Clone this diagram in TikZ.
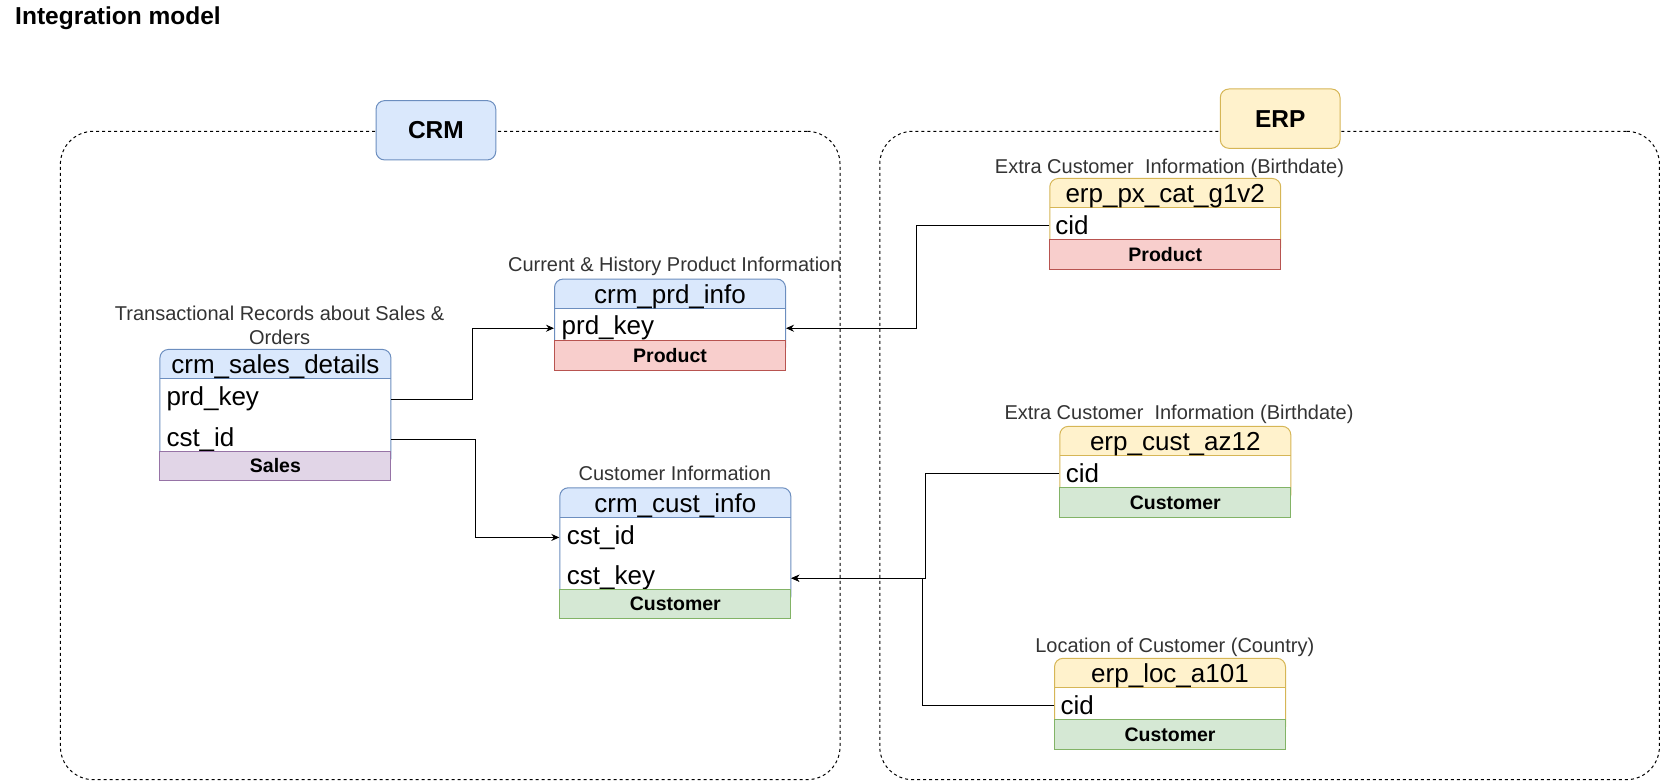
\documentclass[tikz,border=0pt]{standalone}
\usepackage{fontspec}
\setmainfont{Liberation Sans}
\usetikzlibrary{positioning,calc,arrows.meta}
\definecolor{crmfill}{HTML}{DAE8FC}
\definecolor{crmline}{HTML}{6C8EBF}
\definecolor{erpfill}{HTML}{FFF2CC}
\definecolor{erpline}{HTML}{D6B656}
\definecolor{productfill}{HTML}{F8CECC}
\definecolor{productline}{HTML}{B85450}
\definecolor{customerfill}{HTML}{D5E8D4}
\definecolor{customerline}{HTML}{82B366}
\definecolor{salesfill}{HTML}{E1D5E7}
\definecolor{salesline}{HTML}{9673A6}
\begin{document}
\begin{tikzpicture}[x=1.0594pt, y=-1.0594pt,
  zone/.style={draw, line width=1pt, dash pattern=on 3pt off 3pt, rounded corners=33pt, minimum width=779.7pt, minimum height=648.4pt},
  tag/.style={draw=#1line, fill=#1fill, line width=1pt, rounded corners=8.5pt, minimum width=119.7pt, minimum height=59.3pt, font=\fontsize{24.5}{28}\selectfont\bfseries},
  entity/.style={draw=#1line, fill=white, line width=1pt, rounded corners=8.5pt, anchor=north, minimum width=231pt, inner sep=0pt,
    path picture={\fill[#1fill, sharp corners] (path picture bounding box.north west) rectangle ([yshift=-29.5pt]path picture bounding box.north east);
      \draw[#1line, line width=1pt, sharp corners] ([yshift=-29.5pt]path picture bounding box.north west) -- ([yshift=-29.5pt]path picture bounding box.north east);}},
  head/.style={anchor=base, inner sep=0pt, font=\fontsize{26}{30}\selectfont},
  field/.style={anchor=base west, inner sep=0pt, font=\fontsize{26}{30}\selectfont},
  footer/.style={draw=#1line, fill=#1fill, line width=1pt, anchor=north, minimum width=231pt, minimum height=29.5pt, inner sep=0pt, font=\fontsize{19.5}{23}\selectfont\bfseries},
  desc/.style={anchor=base, font=\fontsize{20}{23.5}\selectfont, text=black!80, align=center, inner sep=0pt},
  link/.style={-{Stealth[length=8pt,width=7pt]}, line width=1pt}]
\useasboundingbox (0,0) rectangle (1568,737.2);

\node[anchor=base west, inner sep=0pt, font=\fontsize{24.5}{28}\selectfont\bfseries] (title) at (14.2,22.7) {Integration model};

% source systems
\node[zone] (crmzone) at (425,430) {};
\node[tag=crm] (crm) at (411.5,123) {CRM};
\node[zone] (erpzone) at (1198.5,430) {};
\node[tag=erp] (erp) at (1208.5,112) {ERP};

% crm_sales_details
\node[desc, anchor=center] (salesdesc) at (264,307) {Transactional Records about Sales \&\\Orders};
\node[entity=crm, minimum height=117pt] (sales) at (260,329.4) {};
\node[head] (salesh) at (260,353) {crm\_sales\_details};
\node[field] (salesprd) at (157,383.2) {prd\_key};
\node[field] (salescst) at (157,421.6) {cst\_id};
\node[footer=sales] (salesf) at (260,425.4) {Sales};

% crm_prd_info
\node[desc] (prddesc) at (637,256.5) {Current \& History Product Information};
\node[entity=crm, minimum height=77pt] (prd) at (632.5,263) {};
\node[head] (prdh) at (632.5,286.6) {crm\_prd\_info};
\node[field] (prdkey) at (530,316.2) {prd\_key};
\node[footer=product] (prdf) at (632.5,321) {Product};

% crm_cust_info
\node[desc] (custdesc) at (637,454) {Customer Information};
\node[entity=crm, minimum height=117pt] (cust) at (637.5,460) {};
\node[head] (custh) at (637.5,483.6) {crm\_cust\_info};
\node[field] (custid) at (535,513.8) {cst\_id};
\node[field] (custkey) at (535,552.2) {cst\_key};
\node[footer=customer] (custf) at (637.5,556) {Customer};

% erp_px_cat_g1v2
\node[desc] (pxdesc) at (1104,164) {Extra Customer\ \ Information (Birthdate)};
\node[entity=erp, minimum height=77pt] (px) at (1100,168) {};
\node[head] (pxh) at (1100,191.6) {erp\_px\_cat\_g1v2};
\node[field] (pxcid) at (996,221.8) {cid};
\node[footer=product] (pxf) at (1100,226) {Product};

% erp_cust_az12
\node[desc] (azdesc) at (1113,396) {Extra Customer\ \ Information (Birthdate)};
\node[entity=erp, minimum height=77pt] (az) at (1109.5,402) {};
\node[head] (azh) at (1109.5,425.6) {erp\_cust\_az12};
\node[field] (azcid) at (1006,455.8) {cid};
\node[footer=customer] (azf) at (1109.5,460) {Customer};

% erp_loc_a101
\node[desc] (locdesc) at (1109,615.5) {Location of Customer (Country)};
\node[entity=erp, minimum height=77pt] (loc) at (1104.5,621) {};
\node[head] (loch) at (1104.5,644.6) {erp\_loc\_a101};
\node[field] (loccid) at (1001,674.8) {cid};
\node[footer=customer] (locf) at (1104.5,679) {Customer};

% relations
\draw[link] (salesprd -| sales.east) -- ++(77,0) |- (prdkey -| prd.west);
\draw[link] (salescst -| sales.east) -- ++(79,0) |- (custid -| cust.west);
\draw[link] (pxcid -| px.west) -- ++(-125,0) |- (prdkey -| prd.east);
\draw[link] (azcid -| az.west) -- ++(-126,0) |- (custkey -| cust.east);
\draw[link] (loccid -| loc.west) -- ++(-124,0) |- (custkey -| cust.east);
\end{tikzpicture}
\end{document}
